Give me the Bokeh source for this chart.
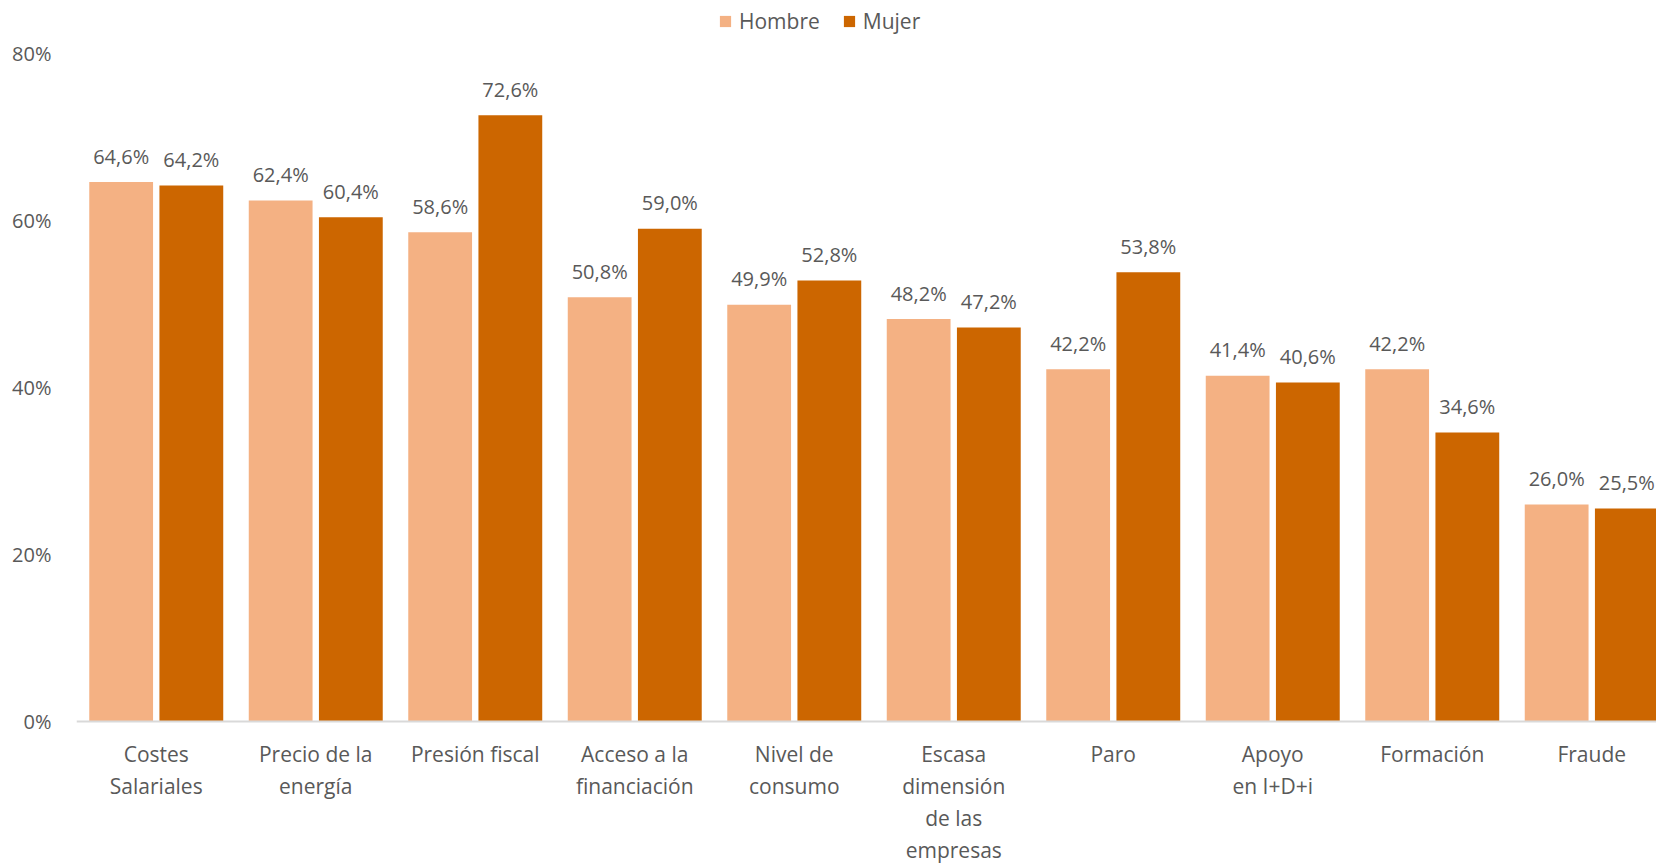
from bokeh.plotting import figure
from bokeh.models import (ColumnDataSource, FixedTicker, Legend, LegendItem, Range1d, Span)
from bokeh.core.properties import value
from bokeh.embed import file_html
from bokeh.resources import INLINE

categories = ["Costes\nSalariales", "Precio de la\nenergía", "Presión fiscal",
              "Acceso a la\nfinanciación", "Nivel de\nconsumo",
              "Escasa\ndimensión\nde las\nempresas", "Paro", "Apoyo\nen I+D+i",
              "Formación", "Fraude"]
hombre = [64.6, 62.4, 58.6, 50.8, 49.9, 48.2, 42.2, 41.4, 42.2, 26.0]
mujer = [64.2, 60.4, 72.6, 59.0, 52.8, 47.2, 53.8, 40.6, 34.6, 25.5]
series_names = ["Hombre", "Mujer"]
y_ticks = [0, 20, 40, 60, 80]

FONT = "Open Sans"
GREY = "#595959"
C_LIGHT = "#F4B183"
C_DARK = "#CC6600"

def fmt(v):
    return f"{v:.1f}".replace(".", ",") + "%"

idx = list(range(len(categories)))
src = ColumnDataSource(dict(
    idx=idx, cat=categories, zero=[0] * len(categories),
    xh=[i - 0.22 for i in idx], xm=[i + 0.22 for i in idx],
    hombre=hombre, mujer=mujer,
    hl=[fmt(v) for v in hombre], ml=[fmt(v) for v in mujer],
))

H = 863
TOP_PX, BOT_PX = 53, 142          # space above 80% and below 0%
plot_px = H - TOP_PX - BOT_PX      # pixels for 0..80
ymax = 80
ppu = plot_px / ymax
# the frame covers the whole canvas height so that legend and category
# labels (which sit outside the 0..80 band) are not clipped
y_range = Range1d(-BOT_PX / ppu, ymax + TOP_PX / ppu)

# the reference chart is cropped at its right edge (last bar touches it)
p = figure(width=1656, height=H, output_backend="svg", toolbar_location=None,
           x_range=Range1d(-0.5, len(categories) - 0.5 - 0.094),
           y_range=y_range,
           min_border_left=76, min_border_right=0, min_border_top=0,
           min_border_bottom=0)
p.outline_line_color = None
p.grid.grid_line_color = None
p.background_fill_color = "white"
p.border_fill_color = "white"
p.xaxis.visible = False

r1 = p.vbar(x="xh", top="hombre", width=0.4, source=src,
            fill_color=C_LIGHT, line_color=None)
r2 = p.vbar(x="xm", top="mujer", width=0.4, source=src,
            fill_color=C_DARK, line_color=None)

p.add_layout(Span(location=0, dimension="width", line_color="#D9D9D9", line_width=2))

for xcol, col, lab in (("xh", "hombre", "hl"), ("xm", "mujer", "ml")):
    p.text(x=xcol, y=col, text=lab, source=src,
           text_align="center", text_baseline="middle", y_offset=-26,
           text_font=value(FONT), text_font_size="20px", text_color=GREY)

# category labels (multi-line)
p.text(x="idx", y="zero", text="cat", source=src, text_align="center",
       text_baseline="top", y_offset=18, text_line_height=1.15,
       text_font=value(FONT), text_font_size="21px", text_color=GREY)

# y axis
p.yaxis.ticker = FixedTicker(ticks=y_ticks)
p.yaxis.major_label_overrides = {t: f"{t}%" for t in y_ticks}
p.yaxis.axis_line_color = None
p.yaxis.major_tick_line_color = None
p.yaxis.minor_tick_line_color = None
p.yaxis.major_label_standoff = 19
p.yaxis.major_label_text_font = FONT
p.yaxis.major_label_text_font_size = "20px"
p.yaxis.major_label_text_color = GREY

legend = Legend(items=[LegendItem(label=series_names[0], renderers=[r1]),
                       LegendItem(label=series_names[1], renderers=[r2])],
                orientation="horizontal", location=(642, H - 35),
                glyph_width=14, glyph_height=14, label_standoff=7, spacing=22,
                padding=0, margin=0, border_line_color=None,
                background_fill_alpha=0,
                label_text_font=FONT, label_text_font_size="21px",
                label_text_color=GREY)
p.add_layout(legend, "center")

open("out.html", "w").write(file_html(p, INLINE))
